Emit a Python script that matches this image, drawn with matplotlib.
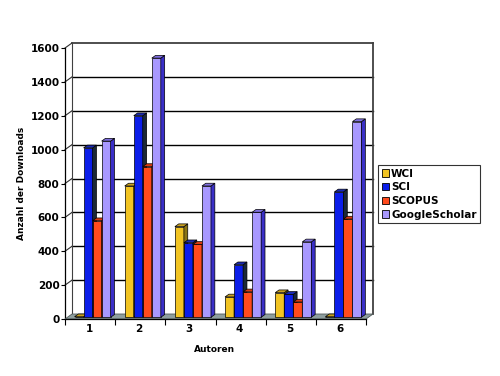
import matplotlib
matplotlib.use("Agg")
import matplotlib.pyplot as plt
from matplotlib.patches import Polygon, Patch

categories = ["1", "2", "3", "4", "5", "6"]
series_names = ["WCI", "SCI", "SCOPUS", "GoogleScholar"]
wci = [3, 775, 535, 120, 145, 3]
sci = [1000, 1190, 440, 310, 135, 740]
scopus = [570, 890, 430, 150, 90, 580]
google = [1040, 1530, 775, 620, 445, 1155]
yticks = [0, 200, 400, 600, 800, 1000, 1200, 1400, 1600]

series = [wci, sci, scopus, google]
front_cols = ["#F2C423", "#0B1EEA", "#FF4A1C", "#A898FF"]
side_cols = ["#8A7414", "#1B2838", "#B02A08", "#3A2FC8"]
top_cols = ["#C9A020", "#1A2AB0", "#D83A10", "#8070E0"]

W, H = 500, 376
fig = plt.figure(figsize=(W / 100, H / 100), dpi=100)
x0, x1, ytop, ybot = 65, 366, 48, 319
ax = fig.add_axes([x0 / W, 1 - ybot / H, (x1 - x0) / W, (ybot - ytop) / H])
ax.set_xlim(0, 6)
ax.set_ylim(0, 1600)

pxx = (x1 - x0) / 6.0
pxy = (ybot - ytop) / 1600.0
DX = 7 / pxx
DY = 5 / pxy

for s in ax.spines.values():
    s.set_visible(False)

# floor
floor = Polygon([(0, 0), (6, 0), (6 + DX, DY), (DX, DY)], closed=True,
                facecolor="#8E9E9E", edgecolor="#505a5a", lw=0.6, zorder=1, clip_on=False)
ax.add_patch(floor)

# back wall gridlines and left wall
for v in yticks:
    if v == 0:
        continue
    lw = 1.0 if v < 1600 else 1.3
    col = "black" if v < 1600 else "#404040"
    ax.plot([DX, 6 + DX], [v + DY, v + DY], color=col, lw=lw, zorder=0.5, clip_on=False)
    ax.plot([0, DX], [v, v + DY], color="#303030", lw=0.8, zorder=0.5, clip_on=False)
ax.plot([DX, DX], [DY, 1600 + DY], color="#404040", lw=0.8, zorder=0.5, clip_on=False)
ax.plot([6 + DX, 6 + DX], [DY, 1600 + DY], color="#404040", lw=1.3, zorder=0.5, clip_on=False)
ax.plot([0, 0], [0, 1600], color="black", lw=0.9, zorder=0.6, clip_on=False)
ax.plot([0, 6], [0, 0], color="black", lw=0.9, zorder=6, clip_on=False)

# bars
bw = 0.18
fx = 0.25 * DX
fy = 0.35 * DY
bdx = 0.55 * DX
bdy = 0.55 * DY
z = 2
for g in range(len(categories)):
    for i, vals in enumerate(series):
        v = vals[g]
        left = g + 0.19 + i * bw
        bot = fy
        top = fy + v
        ax.bar(left, v, width=bw, bottom=bot, align="edge", color=front_cols[i],
               edgecolor="black", lw=0.5, zorder=z, clip_on=False)
        side = Polygon([(left + bw, bot), (left + bw + bdx, bot + bdy),
                        (left + bw + bdx, top + bdy), (left + bw, top)], closed=True,
                       facecolor=side_cols[i], edgecolor="black", lw=0.5, zorder=z, clip_on=False)
        topf = Polygon([(left, top), (left + bw, top), (left + bw + bdx, top + bdy),
                        (left + bdx, top + bdy)], closed=True,
                       facecolor=top_cols[i], edgecolor="black", lw=0.5, zorder=z, clip_on=False)
        ax.add_patch(side)
        ax.add_patch(topf)
        z += 0.01

# ticks
ax.set_yticks(yticks)
ax.set_yticklabels([str(t) for t in yticks], fontsize=7.5, fontweight="bold")
ax.set_xticks(range(7))
ax.set_xticklabels([])
ax.tick_params(axis="y", length=3, width=0.8, pad=1)
ax.tick_params(axis="x", length=4, width=0.8)
for g, c in enumerate(categories):
    ax.text(g + 0.48, -60, c, ha="center", va="center", fontsize=7.5, fontweight="bold")

fig.text(22 / W, 1 - 183 / H, "Anzahl der Downloads", rotation=90, ha="center", va="center",
         fontsize=6.5, fontweight="bold")
fig.text(215 / W, 1 - 349 / H, "Autoren", ha="center", va="center", fontsize=6.5, fontweight="bold")

handles = [Patch(facecolor=c, edgecolor="black", lw=0.6) for c in front_cols]
leg = fig.legend(handles, series_names, loc="upper left", bbox_to_anchor=(378 / W, 1 - 165 / H),
                 fancybox=False, frameon=True, edgecolor="black", handlelength=0.7, handleheight=0.7,
                 handletextpad=0.2, borderpad=0.35, labelspacing=0.35, borderaxespad=0,
                 prop={"size": 7.5, "weight": "bold"})
leg.get_frame().set_linewidth(0.8)

fig.savefig("out.png", dpi=100)
